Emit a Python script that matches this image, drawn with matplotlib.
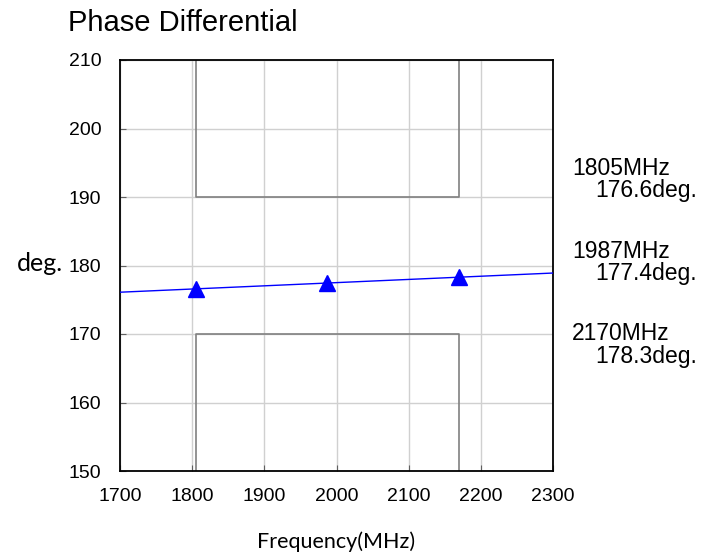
import matplotlib
matplotlib.use("Agg")
import matplotlib.pyplot as plt

# measured points
freq_pts = [1805, 1987, 2170]
phase_pts = [176.6, 177.4, 178.3]

# trace (read at the plot edges)
trace_freq = [1700, 2300]
trace_phase = [176.1, 178.9]

# spec mask
band = [1805, 2170]
upper_limit = 190
lower_limit = 170
y_top = 210
y_bottom = 150

x_ticks = [1700, 1800, 1900, 2000, 2100, 2200, 2300]
y_ticks = [150, 160, 170, 180, 190, 200, 210]

plt.rcParams['font.family'] = ['Liberation Sans', 'DejaVu Sans']

fig = plt.figure(figsize=(7.14, 5.6), dpi=100)
ax = fig.add_axes([120 / 714, 1 - 471 / 560, 433 / 714, 411 / 560])

ax.grid(True, color='#d0d0d0', linewidth=1.0)
ax.set_axisbelow(True)

# mask boxes
ax.plot([band[0], band[0], band[1], band[1]], [y_top, upper_limit, upper_limit, y_top],
        color='#808080', linewidth=1.2, zorder=2)
ax.plot([band[0], band[0], band[1], band[1]], [y_bottom, lower_limit, lower_limit, y_bottom],
        color='#808080', linewidth=1.2, zorder=2)

ax.plot(trace_freq, trace_phase, color='#0000ff', linewidth=1.0, zorder=3)
ax.plot(freq_pts, phase_pts, linestyle='none', marker='^', markersize=11.5,
        color='#0000ff', zorder=4)

ax.set_xlim(1700, 2300)
ax.set_ylim(150, 210)
ax.set_xticks(x_ticks)
ax.set_yticks(y_ticks)
ax.tick_params(direction='in', length=4, color='#606060', labelsize=14)
ax.tick_params(axis='x', pad=12.5)
ax.tick_params(axis='y', pad=13.5)
for s in ax.spines.values():
    s.set_color('#000000')
    s.set_linewidth(1.3)

ax.set_ylabel('deg.', rotation=0, fontsize=18, va='center', ha='center',
              family=['Lato', 'DejaVu Sans'])
ax.yaxis.set_label_coords(-0.185, 0.505)
ax.set_xlabel('Frequency(MHz)', fontsize=15.5, family=['Lato', 'DejaVu Sans'])
ax.xaxis.set_label_coords(0.5, -0.146)

fig.text(68 / 714, 1 - 31 / 560, 'Phase Differential', fontsize=21, va='baseline', ha='left')

# marker readouts on the right
for i, (f, p) in enumerate(zip(freq_pts, phase_pts)):
    y0 = 175 + i * 82.5
    fig.text(572 / 714, 1 - y0 / 560, f'{f}MHz', fontsize=16.5, va='baseline', ha='left')
    fig.text(697 / 714, 1 - (y0 + 22.5) / 560, f'{p:.1f}deg.', fontsize=16.5, va='baseline', ha='right')

fig.savefig('out.png', dpi=100)
